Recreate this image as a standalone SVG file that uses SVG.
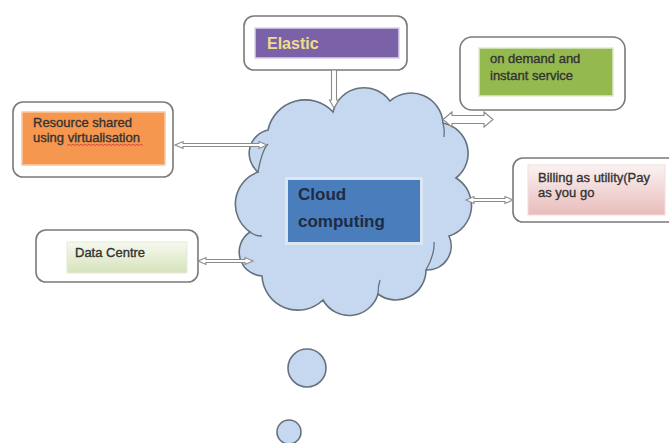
<svg xmlns="http://www.w3.org/2000/svg" width="669" height="443" viewBox="0 0 669 443">
<style>
.outer{fill:#fff;stroke:#7a7a7a;stroke-width:1.6}
.t{font-family:"Liberation Sans",Arial,sans-serif;font-size:13px;fill:#333;stroke:#333;stroke-width:0.35}
.arr{fill:#fff;stroke:#8a8a8a;stroke-width:1.1;stroke-linejoin:miter}
.cloud{fill:#c6d8f0;stroke:#65717f;stroke-width:1.6}
.crease{fill:none;stroke:#65717f;stroke-width:1.3}
</style>
<defs>
<linearGradient id="pink" x1="0" y1="0" x2="0" y2="1"><stop offset="0" stop-color="#fbf2f2"/><stop offset="1" stop-color="#e8bcbb"/></linearGradient>
<linearGradient id="lg" x1="0" y1="0" x2="0" y2="1"><stop offset="0" stop-color="#f6f9ef"/><stop offset="1" stop-color="#d6e3bb"/></linearGradient>
</defs>
<rect width="669" height="443" fill="#fff"/>
<g id="cloud">
<path class="cloud" d="M262,276 A24,24 0 0 1 250,232 A34,34 0 0 1 258,172 A24,24 0 0 1 268,130 A38,38 0 0 1 333,112 A32,32 0 0 1 390,101 A32,32 0 0 1 443,123 A31,31 0 0 1 456,178 A32,32 0 0 1 449,236 A24,24 0 0 1 426,270 A30,30 0 0 1 378,294 A30,30 0 0 1 323,300 A36,36 0 0 1 262,276 Z"/>
<path class="crease" d="M258,172 Q262,150 268,144"/>
<path class="crease" d="M250,232 Q255,236 262,236"/>
<path class="crease" d="M426,270 Q435,254 434,242"/>
<path class="crease" d="M378,294 Q378,286 380,280"/>
<path class="crease" d="M443,123 Q445,130 444,137"/>
<rect x="286.5" y="178.5" width="135" height="65" fill="#4a7dbb" stroke="#dbe6f3" stroke-width="3"/>
<text x="298" y="200" font-family="Liberation Sans,Arial,sans-serif" font-size="17" font-weight="bold" fill="#1d2b45">Cloud</text>
<text x="298" y="227" font-family="Liberation Sans,Arial,sans-serif" font-size="17" font-weight="bold" fill="#1d2b45">computing</text>
</g>
<g id="elastic">
<rect class="outer" x="244" y="16" width="163" height="54" rx="10"/>
<rect x="255" y="28" width="144" height="30" fill="#7b62a8" stroke="#d9d3e6" stroke-width="1.5"/>
<text x="267" y="49" font-family="Liberation Sans,Arial,sans-serif" font-size="16" font-weight="bold" fill="#eedd8c">Elastic</text>
</g>
<g id="ondemand">
<rect class="outer" x="460" y="37" width="165" height="73" rx="12"/>
<rect x="479" y="48" width="134" height="48" fill="#94b94f" stroke="#dfe9cd" stroke-width="1.5"/>
<text class="t" x="490" y="63" font-size="12.5">on demand and</text>
<text class="t" x="490" y="80" font-size="12.5">instant service</text>
</g>
<g id="resource">
<rect class="outer" x="13" y="102" width="160" height="75" rx="10"/>
<rect x="22" y="112" width="143" height="53" fill="#f6974f" stroke="#f9c9a3" stroke-width="1.5"/>
<text class="t" x="33" y="127">Resource shared</text>
<text class="t" x="33" y="142">using virtualisation</text>
<path d="M67,145.5 l2,-1.2 l2,1.2 l2,-1.2 l2,1.2 l2,-1.2 l2,1.2 l2,-1.2 l2,1.2 l2,-1.2 l2,1.2 l2,-1.2 l2,1.2 l2,-1.2 l2,1.2 l2,-1.2 l2,1.2 l2,-1.2 l2,1.2 l2,-1.2 l2,1.2 l2,-1.2 l2,1.2 l2,-1.2 l2,1.2 l2,-1.2 l2,1.2 l2,-1.2 l2,1.2 l2,-1.2 l2,1.2 l2,-1.2 l2,1.2 l2,-1.2 l2,1.2 l2,-1.2 l2,1.2 l2,-1.2 l2,1.2" fill="none" stroke="#d8473f" stroke-width="0.9"/>
</g>
<g id="billing">
<rect class="outer" x="513" y="158" width="170" height="64" rx="10"/>
<rect x="528" y="165" width="137" height="50" fill="url(#pink)" stroke="#f3dede" stroke-width="1"/>
<text class="t" x="538" y="182">Billing as utility(Pay</text>
<text class="t" x="538" y="197">as you go</text>
</g>
<g id="datacentre">
<rect class="outer" x="36" y="230" width="162" height="52" rx="10"/>
<rect x="67" y="242" width="120" height="31" fill="url(#lg)" stroke="#e4ecd4" stroke-width="1"/>
<text class="t" x="75" y="257">Data Centre</text>
</g>
<g id="bubbles">
<circle class="cloud" cx="307" cy="368" r="19"/>
<circle class="cloud" cx="289" cy="432" r="12"/>
</g>
<g id="connectors">
<polygon class="arr" points="331.5,70 336.5,70 336.5,100 338.5,100 334,108 329.5,100 331.5,100"/>
<polygon class="arr" points="175,145 183,141.5 183,143.5 259,143.5 259,141.5 267,145 259,148.5 259,146.5 183,146.5 183,148.5"/>
<polygon class="arr" points="198,261 206,257.5 206,259.5 245,259.5 245,257.5 253,261 245,264.5 245,262.5 206,262.5 206,264.5"/>
<polygon class="arr" points="466,200 474,196.5 474,198.5 505,198.5 505,196.5 513,200 505,203.5 505,201.5 474,201.5 474,203.5"/>
<polygon class="arr" points="443,119.5 452,112 452,115.5 484,115.5 484,112 493,119.5 484,127 484,123.5 452,123.5 452,127"/>
</g>
</svg>
